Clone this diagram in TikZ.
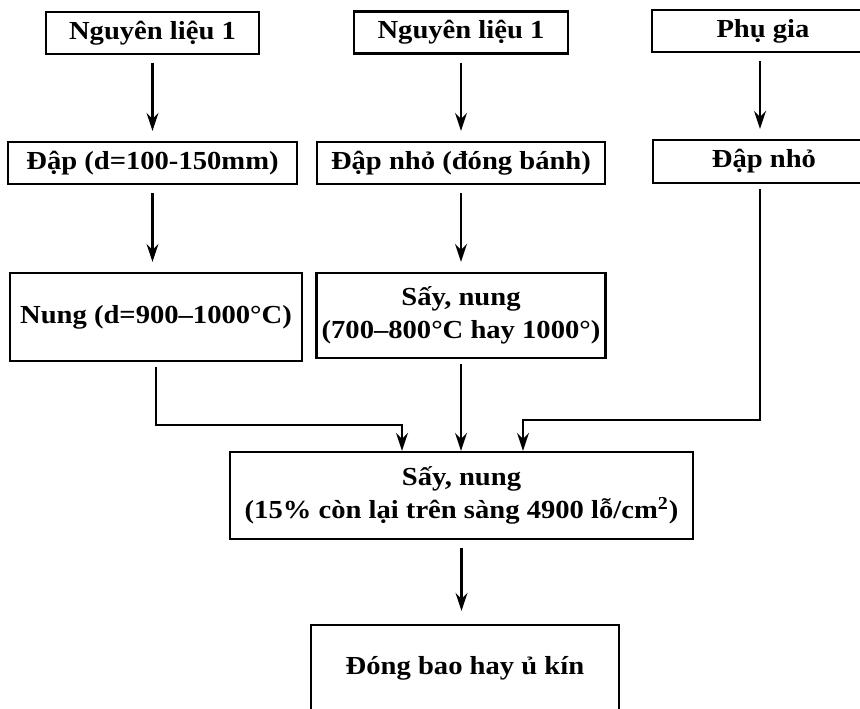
\documentclass[tikz,border=0pt]{standalone}
\usepackage{fontspec}
\setmainfont[FakeStretch=1.1]{Liberation Serif}
\usepackage{tikz}
\usetikzlibrary{arrows.meta,positioning,calc}
\tikzset{
  >={Stealth[length=3.6mm,width=2.4mm,inset=1.2mm]},
  % hộp
  bx/.style={draw=black,line width=1.3pt,inner sep=2pt,align=center,
             minimum height=8.4mm,font=\fontsize{14.8}{19}\selectfont\bfseries},
  % mũi tên
  fa/.style={->,draw=black,line width=1.3pt,shorten <=1.6mm,shorten >=2mm},
  fj/.style={->,draw=black,line width=1.3pt,shorten <=1mm},
}

\begin{document}
\begin{tikzpicture}
\useasboundingbox (0,0) rectangle (17.2,-14.18);
  \node[bx,minimum width=42.6mm] (nl1) at (3.05,-0.66) {Nguyên liệu 1};
  \node[bx,minimum width=42.8mm] (nl2) at (9.22,-0.65) {Nguyên liệu 1};
  \node[bx,minimum width=44.4mm] (pg) at (15.26,-0.62) {Phụ gia};
  \node[bx,minimum width=57.8mm] (dap) at (3.05,-3.26) {Đập (d=100-150mm)};
  \node[bx,minimum width=57.6mm] (dapnho) at (9.22,-3.26) {Đập nhỏ (đóng bánh)};
  \node[bx,minimum width=44.4mm,minimum height=8.6mm] (dapnho2) at (15.28,-3.23) {Đập nhỏ};
  \node[bx,minimum width=58.4mm,minimum height=17.6mm] (nung) at (3.12,-6.34) {Nung (d=900–1000°C)};
  \node[bx,minimum width=57.8mm,minimum height=17mm] (saynung) at (9.22,-6.31)
    {Sấy, nung\\(700–800°C hay 1000°)};
  \node[bx,minimum width=92.6mm,minimum height=17.4mm] (tron) at (9.23,-9.91)
    {Sấy, nung\\(15\% còn lại trên sàng 4900 lỗ/cm\textsuperscript{2})};
  \node[bx,minimum width=61.6mm,minimum height=17.4mm] (dongbao) at (9.3,-13.37) {Đóng bao hay ủ kín};
  \coordinate (jl) at (8.04,-8.5);
  \coordinate (jr) at (10.46,-8.4);
  \draw[fa] (nl1) -- (dap);
  \draw[fa] (nl2) -- (dapnho);
  \draw[fa] (pg.south -| dapnho2) ++(-0.08,0) coordinate (pgs) -- (pgs |- dapnho2.north);
  \draw[fa] (dap.south) -- (dap.south |- nung.north);
  \draw[fa] (dapnho) -- (saynung);
  \draw[fj] (nung.south) |- (jl) -- (jl |- tron.north);
  \draw[fj] (saynung.south) -- (saynung.south |- tron.north);
  \draw[fj] (dapnho2.south) ++(-0.08,0) coordinate (dns) |- (jr) -- (jr |- tron.north);
  \draw[fa,shorten >=2.6mm] (tron.south) -- (tron.south |- dongbao.north);
\end{tikzpicture}
\end{document}
